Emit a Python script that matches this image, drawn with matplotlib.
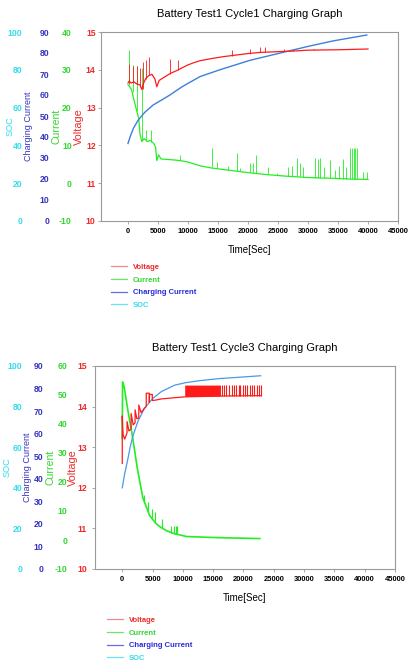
import matplotlib
matplotlib.use("Agg")
import matplotlib.pyplot as plt
from matplotlib.lines import Line2D

plt.rcParams["font.family"] = ["Liberation Sans", "DejaVu Sans"]

# ---- Cycle 1 ----
c1_volt_t = [0, 200, 500, 1000, 1500, 2000, 2300, 2600, 3000, 3500, 4000, 4500,
             4800, 5200, 6000, 7000, 8000, 9000, 10000, 11000, 12000, 14000,
             16000, 18000, 20000, 22000, 25000, 28000, 30000, 35000, 40000]
c1_volt = [13.65, 13.7, 13.65, 13.68, 13.62, 13.6, 13.48, 13.65, 13.78, 13.85,
           13.88, 13.75, 13.55, 13.72, 13.8, 13.9, 13.97, 14.05, 14.13, 14.19,
           14.24, 14.3, 14.35, 14.39, 14.43, 14.46, 14.48, 14.5, 14.52, 14.53, 14.55]
c1_vspk_t = [150, 900, 1450, 2000, 2450, 2950, 3500, 7000, 8400,
             17300, 20300, 22000, 22800, 26000, 27500, 31000]
c1_vspk_lo = [13.65, 13.65, 13.62, 13.6, 13.5, 13.75, 13.85, 13.9, 14.0,
              14.37, 14.43, 14.46, 14.47, 14.49, 14.5, 14.52]
c1_vspk_hi = [14.15, 14.1, 14.1, 14.05, 14.2, 14.26, 14.33, 14.28, 14.26,
              14.52, 14.55, 14.6, 14.6, 14.55, 14.55, 14.56]

c1_cur_t = [0, 300, 600, 1000, 1400, 1800, 2000, 2300, 2700, 3200, 3700, 4300,
            4600, 4800, 5100, 5500, 6500, 8000, 9000, 10000, 12000, 14000,
            17500, 20000, 23000, 26000, 30000, 34000, 37000, 40000]
c1_cur = [26, 25.5, 24.7, 22, 19.5, 17, 13.0, 11.0, 11.8, 11.0, 11.3, 10.5,
          9.5, 6.0, 7.5, 6.4, 6.3, 6.1, 5.9, 5.6, 4.6, 4.0, 3.3, 2.8, 2.3,
          1.9, 1.5, 1.3, 1.1, 1.0]
c1_cspk_t = [170, 780, 1450, 2280, 3000, 3900, 8700, 13950, 14800, 16700,
             18100, 18700, 20300, 20900, 21300, 23400, 24800, 26700, 27300,
             28100, 28700, 29200, 31200, 31700, 32000, 32600, 33700, 34500,
             35100, 35900, 36400, 37000, 37300, 37600, 37900, 38200, 39200, 39800]
c1_cspk_lo = [26, 24, 19, 11.3, 11.5, 11, 6.1, 4.2, 4.0, 3.6, 3.3, 3.2, 2.9,
              2.8, 2.7, 2.4, 2.2, 1.9, 1.9, 1.8, 1.8, 1.7, 1.5, 1.5, 1.5, 1.4,
              1.3, 1.3, 1.2, 1.2, 1.2, 1.1, 1.1, 1.1, 1.1, 1.1, 1.0, 1.0]
c1_cspk_hi = [35.2, 31.3, 31.0, 30.4, 14.0, 14.1, 7.5, 9.2, 5.5, 4.6, 7.9,
              4.0, 5.3, 5.3, 7.5, 4.4, 2.8, 4.4, 4.6, 6.6, 5.3, 4.4, 6.6, 6.3,
              6.6, 4.4, 6.1, 3.5, 4.6, 6.4, 4.4, 9.2, 9.2, 9.2, 9.2, 9.2, 3.0, 3.0]

c1_soc_t = [0, 400, 900, 1700, 2800, 4200, 5600, 7000, 9000, 12000, 15300,
            20300, 26200, 30300, 34200, 39800]
c1_soc = [41, 45, 49, 53.4, 57.5, 61.4, 64, 66.7, 71, 76.4, 80, 85, 89.5,
          92.6, 95.3, 98.4]

# ---- Cycle 3 ----
c3_volt_t = [0, 0, 60, 150, 400, 780, 790, 1100, 1450, 1460, 1800, 2110, 2120,
             2400, 2720, 2730, 3100, 3600, 3950, 3960, 4450, 4460, 4500, 4950,
             4960, 5500, 6500, 8000, 10300, 16200, 22800]
c3_volt = [12.6, 13.77, 13.5, 13.3, 13.2, 13.35, 13.63, 13.4, 13.45, 13.83,
           13.55, 13.6, 13.92, 13.7, 13.72, 14.04, 13.85, 13.95, 14.0, 14.33,
           14.33, 14.1, 14.3, 14.3, 14.15, 14.16, 14.19, 14.21, 14.24, 14.26, 14.27]
c3_band_t = [10300, 16200]
c3_band_lo = [14.25, 14.26]
c3_band_hi = [14.53, 14.53]
c3_vspk_t = [16440, 16720, 17160, 17550, 18110, 18390, 18830, 19220, 19500,
             19950, 20330, 20610, 21060, 21440, 21720, 22170, 22560, 22830]
c3_vspk_lo = 14.26
c3_vspk_hi = 14.53

c3_cur_t = [0, 50, 300, 900, 1700, 2500, 3400, 4500, 5500, 6200, 7300, 8400,
            10600, 14500, 18000, 22700]
c3_cur = [35, 54.5, 53, 45, 35.5, 24.5, 14.5, 8.5, 5.8, 4.6, 3.2, 2.3, 1.2,
          0.9, 0.7, 0.5]
c3_cspk_t = [3550, 4220, 4890, 5450, 6560, 8100, 8500, 8850, 9100]
c3_cspk_lo = [12.6, 10, 7.5, 6, 4.2, 2.5, 2.2, 2.1, 2.0]
c3_cspk_hi = [15.5, 13, 10.8, 9.5, 7.2, 5, 5, 5, 5]

c3_soc_t = [0, 400, 890, 1300, 1720, 2560, 3670, 5060, 6450, 8670, 10500,
            12830, 16000, 19500, 22830]
c3_soc = [40, 47, 53.7, 60, 65.2, 72.6, 79.2, 84.1, 87.4, 90.6, 91.8, 92.8,
          93.8, 94.5, 95.2]

time_ticks = list(range(0, 45001, 5000))
legend_names = ["Voltage", "Current", "Charging Current", "SOC"]

RED, GREEN, BLUE = "#ff1a1a", "#22ee22", "#3c7fdc"
C_VOLT, C_CUR, C_CC, C_SOC = "#ee2a2a", "#33d633", "#3535c0", "#35dcec"
GRAY = "#9a9a9a"
FIG_W, FIG_H = 409, 663
TICK_FS = 6.2


def scale(ax, lo, hi, step, color, pad):
    tw = ax.twinx()
    tw.set_ylim(lo, hi)
    ticks = list(range(lo, hi + 1, step))
    tw.set_yticks(ticks, [str(t) for t in ticks], fontweight="bold")
    tw.yaxis.set_ticks_position("left")
    tw.tick_params(axis="y", length=0, pad=pad, labelsize=TICK_FS, labelcolor=color)
    for s in tw.spines.values():
        s.set_visible(False)
    return tw


def panel(fig, rect, title, cur_lim, pads, lab_x, leg_xy):
    ax = fig.add_axes(rect)
    ax.set_xlim(-4500, 45000)
    ax.set_ylim(10, 15)
    ax.set_yticks(range(10, 16), [str(v) for v in range(10, 16)], fontweight="bold")
    ax.set_xticks(time_ticks, [str(t) for t in time_ticks], fontweight="bold")
    ax.tick_params(axis="y", length=2.2, pad=pads[0], labelsize=TICK_FS,
                   labelcolor=C_VOLT, color=GRAY, width=0.6)
    ax.tick_params(axis="x", length=2.2, pad=2.5, labelsize=5.4, color=GRAY, width=0.6)
    for s in ax.spines.values():
        s.set_color(GRAY)
        s.set_linewidth(0.8)
    ax.set_title(title, fontsize=8, pad=10.5)
    ax.set_xlabel("Time[Sec]", fontsize=7, labelpad=7.5)

    ax_cur = scale(ax, cur_lim[0], cur_lim[1], 10, C_CUR, pads[1])
    scale(ax, 0, 90, 10, C_CC, pads[2])
    ax_soc = scale(ax, 0, 100, 20, C_SOC, pads[3])

    yc = rect[1] + rect[3] / 2
    for x, name, col, fs in zip(lab_x, legend_names, [C_VOLT, C_CUR, C_CC, C_SOC],
                                [7.8, 7.6, 6.5, 6.6]):
        fig.text(x / FIG_W, yc, name, rotation=90, ha="center", va="center",
                 color=col, fontsize=fs)

    handles = [Line2D([], [], color=c, lw=0.9) for c in
               ["#f08a8a", "#66e866", "#6a6ae0", "#66e6f2"]]
    leg = fig.legend(handles, legend_names, loc="upper left",
                     bbox_to_anchor=(leg_xy[0] / FIG_W, 1 - leg_xy[1] / FIG_H),
                     frameon=False, fontsize=5.5, borderpad=0, handlelength=2.1,
                     handletextpad=0.8, labelspacing=0.68)
    for txt, col in zip(leg.get_texts(), [C_VOLT, C_CUR, "#2a2ad8", C_SOC]):
        txt.set_color(col)
        txt.set_fontweight("bold")

    # voltage drawn last so it sits on top, on its own 10..15 scale
    ax_v = ax_soc.twinx()
    ax_v.set_ylim(10, 15)
    ax_v.axis("off")
    return ax_cur, ax_soc, ax_v


fig = plt.figure(figsize=(FIG_W / 100, FIG_H / 100), dpi=100)

# top panel: Cycle 1
ax_cur, ax_soc, ax_v = panel(fig, [101 / FIG_W, 1 - 221 / FIG_H, 297 / FIG_W, 189 / FIG_H],
                             "Battery Test1 Cycle1 Charging Graph", (-10, 40),
                             (1.6, 21.0, 37.0, 56.5), (79, 57, 29, 10), (107, 260))
ax_cur.plot(c1_cur_t, c1_cur, color=GREEN, lw=0.9)
ax_cur.vlines(c1_cspk_t, c1_cspk_lo, c1_cspk_hi, color=GREEN, lw=0.6)
ax_soc.plot(c1_soc_t, c1_soc, color=BLUE, lw=1.0)
ax_v.plot(c1_volt_t, c1_volt, color=RED, lw=0.9)
ax_v.vlines(c1_vspk_t, c1_vspk_lo, c1_vspk_hi, color=RED, lw=0.6)

# bottom panel: Cycle 3
ax_cur, ax_soc, ax_v = panel(fig, [95 / FIG_W, 1 - 569 / FIG_H, 300 / FIG_W, 203 / FIG_H],
                             "Battery Test1 Cycle3 Charging Graph", (-10, 60),
                             (3.5, 20.0, 37.0, 52.5), (73, 50, 27, 7), (103, 613))
ax_cur.plot(c3_cur_t, c3_cur, color=GREEN, lw=1.2)
ax_cur.vlines(c3_cspk_t, c3_cspk_lo, c3_cspk_hi, color=GREEN, lw=0.8)
ax_soc.plot(c3_soc_t, c3_soc, color="#4a98ea", lw=0.9)
ax_v.plot(c3_volt_t, c3_volt, color=RED, lw=0.9)
ax_v.fill_between(c3_band_t, c3_band_lo, c3_band_hi, color=RED, lw=0)
ax_v.vlines(c3_vspk_t, c3_vspk_lo, c3_vspk_hi, color=RED, lw=0.8)

fig.savefig("out.png", dpi=100)
